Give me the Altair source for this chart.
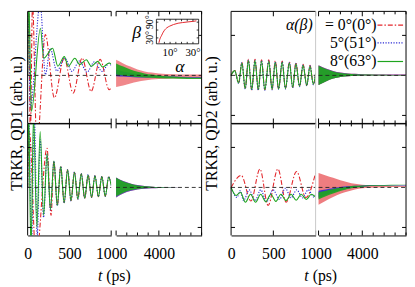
import altair as alt
import pandas as pd

FONT = "Liberation Serif"
RED, BLUE, GREEN = "#e3262b", "#2a2ad4", "#1ea51e"
DASH_RED = [5, 2, 1.5, 2]
DASH_BLUE = [1.2, 1.5]

YDOM = [-1.2, 1.6]
XDOM_L = [0, 1000]
XDOM_R = [1000, 7000]
H = 114

LEGEND = ["0°(0°)", "5°(51°)", "8°(63°)"]
X_LABELS_LEFT = [0, 500, 1000]
X_LABELS_RIGHT = [4000]
XT_LEFT_MAJOR = [500, 1000]
XT_RIGHT_MAJOR = [1000, 4000]
XT_RIGHT_MINOR = [1750, 2500, 3250, 4750, 5500, 6250, 7000]
Y_TICKS = [-1, 1]

# ---------------- QD1 upper panel ----------------
TL_red_t = [0, 12, 32, 58, 110, 212, 320, 437, 545, 652, 760, 868, 976, 1000]
TL_red_v = [0, 1.8, -1.6, 1.8, -1.8, 1.02, -0.56, 0.43, -0.44, 0.43, -0.40, 0.40, -0.36, -0.30]
TL_blue_t = [0, 10, 32, 150, 212, 270, 349, 447, 530, 620, 710, 800, 890, 975, 1000]
TL_blue_v = [0, 1.8, -0.8, 1.8, 0.02, 0.67, 0.11, 0.43, 0.10, 0.36, 0.08, 0.34, 0.10, 0.30, 0.25]
TL_green_t = [0, 12, 45, 153, 192, 298, 361, 439, 486, 565, 624, 702, 761, 839, 898, 976, 1000]
TL_green_v = [0, 2.0, -0.9, 1.18, 0.43, 0.68, 0.23, 0.47, 0.23, 0.43, 0.27, 0.39, 0.23, 0.35, 0.21, 0.31, 0.28]

RT = [1000, 1500, 2000, 2500, 3000, 3500, 4000, 5000, 6000, 7000]
TL_red_hi = [0.39, 0.30, 0.22, 0.15, 0.10, 0.07, 0.05, 0.03, 0.02, 0.02]
TL_red_lo = [-0.29, -0.25, -0.20, -0.16, -0.13, -0.10, -0.09, -0.08, -0.07, -0.07]
TL_blue_hi = [0.15, 0.10, 0.06, 0.03, 0.01, -0.01, -0.02, -0.03, -0.04, -0.04]
TL_blue_lo = [-0.02, -0.03, -0.04, -0.05, -0.05, -0.05, -0.05, -0.06, -0.06, -0.06]
TL_green_hi = [0.30, 0.22, 0.15, 0.09, 0.05, 0.02, 0.0, -0.03, -0.05, -0.06]
TL_green_lo = [0.02, 0.0, -0.02, -0.04, -0.05, -0.06, -0.07, -0.08, -0.09, -0.09]

# ---------------- QD1 lower panel ----------------
BL_red_t = [0, 20, 100, 232, 280, 314, 355, 396, 437, 478, 519, 560, 601, 642, 683, 724, 765, 806, 847, 888, 929, 970, 1000]
BL_red_v = [0, 1.4, -1.8, 0.98, -0.7, 0.66, -0.45, 0.52, -0.38, 0.44, -0.33, 0.38, -0.29, 0.34, -0.27, 0.31, -0.25, 0.29, -0.23, 0.27, -0.22, 0.26, 0.05]
BL_blue_t = [0, 15, 45, 80, 115, 150, 191, 232, 273, 314, 355, 396, 437, 478, 519, 560, 601, 642, 683, 724, 765, 806, 847, 888, 929, 970, 1000]
BL_blue_v = [0, 1.8, -1.5, 1.8, -1.2, 1.2, -0.75, 0.82, -0.56, 0.66, -0.46, 0.53, -0.39, 0.45, -0.34, 0.39, -0.30, 0.35, -0.27, 0.32, -0.25, 0.30, -0.23, 0.28, -0.22, 0.27, 0.05]
BL_green_t = [0, 10, 40, 70, 110, 150, 191, 232, 273, 314, 355, 396, 437, 478, 519, 560, 601, 642, 683, 724, 765, 806, 847, 888, 929, 970, 1000]
BL_green_v = [0, 2.0, -1.6, 1.8, -1.0, 1.4, -0.7, 0.85, -0.55, 0.66, -0.45, 0.52, -0.38, 0.44, -0.33, 0.38, -0.29, 0.34, -0.27, 0.31, -0.25, 0.29, -0.23, 0.27, -0.22, 0.26, 0.05]
BL_red_hi = [0.25, 0.16, 0.10, 0.06, 0.035, 0.02, 0.012, 0.005, 0.0, 0.0]
BL_red_lo = [-0.25, -0.15, -0.09, -0.05, -0.03, -0.02, -0.012, -0.005, 0.0, 0.0]
BL_green_hi = [0.24, 0.15, 0.09, 0.05, 0.03, 0.02, 0.01, 0.005, 0.0, 0.0]
BL_green_lo = [-0.22, -0.13, -0.07, -0.04, -0.02, -0.01, -0.005, 0.0, 0.0, 0.0]

# ---------------- QD2 upper panel ----------------
TR_t = [0, 43, 89, 128, 167, 205, 244, 283, 322, 360, 399, 446, 485, 523, 562, 605, 643, 690, 729, 767, 810, 852, 895, 934, 973, 1000]
TR_red_v = [0, 0.13, -0.19, 0.33, -0.33, 0.40, -0.36, 0.40, -0.36, 0.39, -0.36, 0.39, -0.35, 0.36, -0.34, 0.36, -0.33, 0.34, -0.30, 0.32, -0.27, 0.28, -0.25, 0.25, -0.22, 0.05]
TR_blue_v = [0, 0.12, -0.20, 0.32, -0.34, 0.38, -0.37, 0.38, -0.37, 0.37, -0.37, 0.36, -0.36, 0.34, -0.35, 0.34, -0.34, 0.32, -0.31, 0.30, -0.28, 0.26, -0.26, 0.24, -0.23, 0.05]
TR_green_v = [0, 0.12, -0.19, 0.31, -0.33, 0.37, -0.36, 0.37, -0.36, 0.36, -0.36, 0.35, -0.35, 0.33, -0.34, 0.33, -0.33, 0.31, -0.30, 0.29, -0.27, 0.25, -0.25, 0.23, -0.22, 0.05]
TR_red_hi = [0.255, 0.17, 0.11, 0.07, 0.05, 0.04, 0.03, 0.02, 0.02, 0.02]
TR_red_lo = [-0.24, -0.15, -0.08, -0.04, -0.02, -0.01, 0.0, 0.0, 0.0, 0.0]
TR_green_hi = [0.24, 0.16, 0.10, 0.06, 0.04, 0.03, 0.02, 0.015, 0.01, 0.01]
TR_green_lo = [-0.24, -0.15, -0.08, -0.04, -0.02, -0.01, 0.0, 0.0, 0.0, 0.0]

# ---------------- QD2 lower panel ----------------
BR_red_t = [0, 120, 235, 341, 438, 554, 651, 775, 884, 1000]
BR_red_v = [0, 0.30, -0.34, 0.46, -0.45, 0.46, -0.37, 0.40, -0.25, 0.36]
BR_blue_t = [0, 70, 109, 147, 215, 283, 351, 419, 496, 573, 641, 709, 777, 845, 912, 980, 1000]
BR_blue_v = [0, -0.25, -0.08, -0.33, -0.06, -0.33, -0.06, -0.36, -0.06, -0.30, -0.02, -0.26, -0.06, -0.26, -0.06, -0.24, -0.18]
BR_green_t = [0, 60, 110, 170, 230, 290, 350, 410, 470, 530, 590, 650, 710, 770, 830, 890, 950, 1000]
BR_green_v = [0, -0.2, -0.12, -0.37, -0.17, -0.37, -0.17, -0.36, -0.17, -0.35, -0.17, -0.33, -0.17, -0.32, -0.17, -0.30, -0.17, -0.24]
BR_red_hi = [0.36, 0.30, 0.24, 0.18, 0.13, 0.09, 0.07, 0.05, 0.04, 0.04]
BR_red_lo = [-0.43, -0.33, -0.24, -0.16, -0.10, -0.05, -0.02, 0.0, 0.01, 0.02]
BR_blue_hi = [-0.08, -0.05, -0.02, 0.01, 0.03, 0.04, 0.05, 0.06, 0.06, 0.06]
BR_blue_lo = [-0.26, -0.19, -0.12, -0.07, -0.03, 0.0, 0.02, 0.04, 0.05, 0.05]
BR_green_hi = [-0.12, -0.08, -0.04, -0.01, 0.02, 0.04, 0.05, 0.06, 0.07, 0.07]
BR_green_lo = [-0.30, -0.22, -0.15, -0.09, -0.04, -0.01, 0.02, 0.04, 0.05, 0.06]

# ---------------- inset beta(alpha) ----------------
INSET_A = [0.2, 1, 2.4, 4, 5.4, 7, 9.7, 13, 17, 21, 25.7, 30, 33]
INSET_B = [11, 25, 38, 52, 61, 68, 75, 81, 86, 88.5, 91, 93, 95]
INSET_XTICKS = [5, 10, 15, 20, 25, 30]
INSET_YTICKS = [30, 60, 90]

ONE = pd.DataFrame({"k": [0]})
STY = {"r": (RED, DASH_RED), "b": (BLUE, DASH_BLUE), "g": (GREEN, None)}


def txt(s, x, y, size=16, italic=False, align="center", angle=0, baseline="middle"):
    kw = dict(text=s, font=FONT, fontSize=size, align=align, baseline=baseline, color="black")
    if italic:
        kw["fontStyle"] = "italic"
    if angle:
        kw["angle"] = angle
    return alt.Chart(ONE).mark_text(**kw).encode(x=alt.value(x), y=alt.value(y))


def legline(color, dash, x1, x2, y):
    kw = dict(color=color, strokeWidth=1.2)
    if dash:
        kw["strokeDash"] = dash
    return alt.Chart(ONE).mark_rule(**kw).encode(x=alt.value(x1), x2=alt.value(x2), y=alt.value(y))


def sub(L, R, xdom, lines, bands, xlab, show_lab, major, minor, left_edge, right_edge, gray_edge=False):
    xs = alt.Scale(domain=xdom, range=[L, R], nice=False, zero=False)
    ys = alt.Scale(domain=YDOM, nice=False, zero=False)
    xax = alt.Axis(orient="bottom", values=xlab, labels=show_lab, ticks=False, tickSize=0,
                   grid=False, domain=True, domainColor="black", domainWidth=1, title=None,
                   labelFont=FONT, labelFontSize=16, labelColor="black", labelFlush=False,
                   labelPadding=10, labelAngle=0, labelOverlap=False, format="d")
    X = alt.X("t:Q", scale=xs, axis=xax)
    Yv = alt.Y("v:Q", scale=ys, axis=None)
    layers = []
    for (t, hi, lo, key, op) in bands:
        d = pd.DataFrame({"t": t, "v": hi, "lo": lo})
        layers.append(alt.Chart(d).mark_area(color=STY[key][0], opacity=op, clip=True,
                                             interpolate="monotone").encode(x=X, y=Yv, y2="lo:Q"))
    for (t, v, key) in lines:
        col, dash = STY[key]
        kw = dict(color=col, strokeWidth=1.1, clip=True, interpolate="monotone")
        if dash:
            kw["strokeDash"] = dash
        layers.append(alt.Chart(pd.DataFrame({"t": t, "v": v})).mark_line(**kw).encode(x=X, y=Yv))
    layers.append(alt.Chart(pd.DataFrame({"v": [0]})).mark_rule(color="#222", strokeDash=[4, 3],
                  strokeWidth=0.9).encode(y=Yv, x=alt.value(L), x2=alt.value(R)))
    for vals, ln in ((major, 5), (minor, 3)):
        if vals:
            d = pd.DataFrame({"t": vals})
            layers.append(alt.Chart(d).mark_rule(color="black").encode(x=X, y=alt.value(0), y2=alt.value(ln)))
            layers.append(alt.Chart(d).mark_rule(color="black").encode(x=X, y=alt.value(H - ln), y2=alt.value(H)))
    yt = pd.DataFrame({"v": Y_TICKS})
    if left_edge:
        layers.append(alt.Chart(yt).mark_rule(color="black").encode(y=Yv, x=alt.value(L), x2=alt.value(L + 4)))
        layers.append(alt.Chart(ONE).mark_rule(color="black").encode(x=alt.value(L), y=alt.value(0), y2=alt.value(H)))
    if right_edge:
        layers.append(alt.Chart(yt).mark_rule(color="black").encode(y=Yv, x=alt.value(R - 4), x2=alt.value(R)))
        layers.append(alt.Chart(ONE).mark_rule(color="black").encode(x=alt.value(R), y=alt.value(0), y2=alt.value(H)))
    layers.append(alt.Chart(ONE).mark_rule(color="black").encode(y=alt.value(0), x=alt.value(L), x2=alt.value(R)))
    if gray_edge:
        layers.append(alt.Chart(ONE).mark_rule(color="#c8c8c8").encode(x=alt.value(R), y=alt.value(0), y2=alt.value(H)))
    return layers


def inset(ox):
    a_s = alt.Scale(domain=[-2, 35], range=[ox + 41, ox + 84], nice=False, zero=False)
    b_s = alt.Scale(domain=[0, 100], range=[35, 8.3], nice=False, zero=False)
    A = alt.X("a:Q", scale=a_s, axis=None)
    B = alt.Y("b:Q", scale=b_s, axis=None)
    box = alt.Chart(ONE).mark_rect(fill="white", stroke="black", strokeWidth=0.8).encode(
        x=alt.value(ox + 41), x2=alt.value(ox + 84), y=alt.value(8), y2=alt.value(33))
    curve = alt.Chart(pd.DataFrame({"a": INSET_A, "b": INSET_B})).mark_line(
        color=RED, strokeWidth=1, interpolate="monotone").encode(x=A, y=B)
    xt = pd.DataFrame({"a": INSET_XTICKS})
    yt = pd.DataFrame({"b": INSET_YTICKS})
    t1 = alt.Chart(xt).mark_rule(color="black", strokeWidth=0.8).encode(x=A, y=alt.value(31), y2=alt.value(33))
    t2 = alt.Chart(xt).mark_rule(color="black", strokeWidth=0.8).encode(x=A, y=alt.value(8), y2=alt.value(10))
    t3 = alt.Chart(yt).mark_rule(color="black", strokeWidth=0.8).encode(y=B, x=alt.value(ox + 41), x2=alt.value(ox + 43))
    t4 = alt.Chart(yt).mark_rule(color="black", strokeWidth=0.8).encode(y=B, x=alt.value(ox + 82), x2=alt.value(ox + 84))
    xl = alt.Chart(pd.DataFrame({"a": [10, 30], "lab": ["10°", "30°"]})).mark_text(
        font=FONT, fontSize=11, color="black", baseline="middle").encode(x=A, y=alt.value(42), text="lab:N")
    yl = alt.Chart(pd.DataFrame({"b": [30, 90], "lab": ["30°", "90°"]})).mark_text(
        font=FONT, fontSize=10, color="black", baseline="middle", angle=270).encode(y=B, x=alt.value(ox + 35), text="lab:N")
    beta = txt("β", ox + 21, 22, size=18, italic=True)
    alpha = txt("α", ox + 65, 57, size=18, italic=True)
    return alt.layer(box, curve, t1, t2, t3, t4, xl, yl, beta, alpha)


# cell widths (gaps between sub-panels are folded into the cells)
G1, G2, G3 = 5, 30, 3
W1, W2, W3, W4 = 85, 87, 86, 89

TLa = alt.layer(*sub(0, W1, XDOM_L,
                     [(TL_red_t, TL_red_v, "r"), (TL_blue_t, TL_blue_v, "b"), (TL_green_t, TL_green_v, "g")],
                     [], X_LABELS_LEFT, False, XT_LEFT_MAJOR, [], True, False),
                txt("TRKR, QD1 (arb. u.)", -11, H, angle=270)).properties(width=W1, height=H)
TLb_main = alt.layer(*sub(G1, G1 + W2, XDOM_R, [],
                          [(RT, TL_red_hi, TL_red_lo, "r", 0.55), (RT, TL_blue_hi, TL_blue_lo, "b", 0.9),
                           (RT, TL_green_hi, TL_green_lo, "g", 0.92)],
                          X_LABELS_RIGHT, False, XT_RIGHT_MAJOR, XT_RIGHT_MINOR, False, True))
TLb = alt.layer(TLb_main, inset(G1)).resolve_scale(x="independent", y="independent").properties(
    width=G1 + W2, height=H)

BLa = alt.layer(*sub(0, W1, XDOM_L,
                     [(BL_red_t, BL_red_v, "r"), (BL_blue_t, BL_blue_v, "b"), (BL_green_t, BL_green_v, "g")],
                     [], X_LABELS_LEFT, True, XT_LEFT_MAJOR, [], True, False),
                txt("t", 76, H + 41, italic=True, align="right"),
                txt("(ps)", 80, H + 41, align="left")).properties(width=W1, height=H)
BLb = alt.layer(*sub(G1, G1 + W2, XDOM_R, [],
                     [(RT, BL_red_hi, BL_red_lo, "r", 0.55), (RT, BL_red_hi, BL_red_lo, "b", 0.7),
                      (RT, BL_green_hi, BL_green_lo, "g", 0.92)],
                     X_LABELS_RIGHT, True, XT_RIGHT_MAJOR, XT_RIGHT_MINOR, False, True)).properties(
    width=G1 + W2, height=H)

TRa = alt.layer(*sub(G2, G2 + W3, XDOM_L,
                     [(TR_t, TR_red_v, "r"), (TR_t, TR_blue_v, "b"), (TR_t, TR_green_v, "g")],
                     [], X_LABELS_LEFT, False, XT_LEFT_MAJOR, [], True, False, gray_edge=True),
                txt("TRKR, QD2 (arb. u.)", G2 - 19, H, angle=270)).properties(width=G2 + W3, height=H)
TRb = alt.layer(*sub(G3, G3 + W4, XDOM_R, [],
                     [(RT, TR_red_hi, TR_red_lo, "r", 0.7), (RT, TR_red_hi, TR_red_lo, "b", 0.6),
                      (RT, TR_green_hi, TR_green_lo, "g", 0.92)],
                     X_LABELS_RIGHT, False, XT_RIGHT_MAJOR, XT_RIGHT_MINOR, False, True),
                txt("α(β)", G3 - 6, 14, italic=True, align="right"),
                txt("= " + LEGEND[0], G3 + 59, 14, align="right"),
                txt(LEGEND[1], G3 + 59, 32, align="right"),
                txt(LEGEND[2], G3 + 59, 51, align="right"),
                legline(RED, DASH_RED, G3 + 60, G3 + 86, 14),
                legline(BLUE, DASH_BLUE, G3 + 60, G3 + 86, 32),
                legline(GREEN, None, G3 + 60, G3 + 86, 51)).properties(width=G3 + W4, height=H)

BRa = alt.layer(*sub(G2, G2 + W3, XDOM_L,
                     [(BR_red_t, BR_red_v, "r"), (BR_blue_t, BR_blue_v, "b"), (BR_green_t, BR_green_v, "g")],
                     [], X_LABELS_LEFT, True, XT_LEFT_MAJOR, [], True, False, gray_edge=True),
                txt("t", G2 + 79, H + 41, italic=True, align="right"),
                txt("(ps)", G2 + 83, H + 41, align="left")).properties(width=G2 + W3, height=H)
BRb = alt.layer(*sub(G3, G3 + W4, XDOM_R, [],
                     [(RT, BR_red_hi, BR_red_lo, "r", 0.6), (RT, BR_blue_hi, BR_blue_lo, "b", 0.9),
                      (RT, BR_green_hi, BR_green_lo, "g", 0.92)],
                     X_LABELS_RIGHT, True, XT_RIGHT_MAJOR, XT_RIGHT_MINOR, False, True)).properties(
    width=G3 + W4, height=H)

chart = alt.concat(TLa, TLb, TRa, TRb, BLa, BLb, BRa, BRb, columns=4, spacing=0,
                   bounds="flush", align="each").properties(
    padding=0, background="white").configure_view(stroke=None)

chart.save("out.html", embed_options={"renderer": "svg", "actions": False})
